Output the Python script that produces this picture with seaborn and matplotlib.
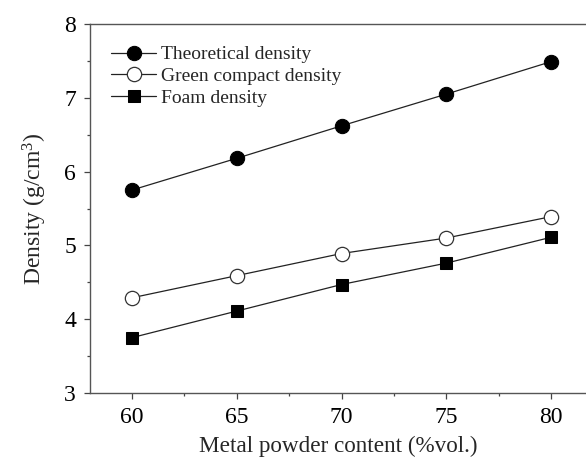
import matplotlib
matplotlib.use("Agg")
import matplotlib.pyplot as plt
import seaborn as sns
import pandas as pd
from matplotlib.ticker import MultipleLocator

content = [60, 65, 70, 75, 80]
theoretical = [5.75, 6.18, 6.62, 7.05, 7.49]
green = [4.29, 4.59, 4.89, 5.10, 5.39]
foam = [3.75, 4.11, 4.47, 4.76, 5.11]
labels = ["Theoretical density", "Green compact density", "Foam density"]

sns.set_style("ticks")
plt.rcParams['font.family'] = ['Liberation Serif', 'DejaVu Serif']
plt.rcParams['mathtext.fontset'] = 'custom'
plt.rcParams['mathtext.rm'] = 'Liberation Serif'
plt.rcParams['mathtext.it'] = 'Liberation Serif'

fig = plt.figure(figsize=(5.86, 4.58), dpi=100)
ax = fig.add_axes([90/586, 1-393/458, 1-90/586, (393-24)/458])

styles = [
    dict(marker='o', markerfacecolor='black', markeredgecolor='black', markersize=10.3),
    dict(marker='o', markerfacecolor='white', markeredgecolor='#333333', markersize=10.3, markeredgewidth=0.9),
    dict(marker='s', markerfacecolor='black', markeredgecolor='black', markersize=8.6),
]
for vals, lab, st in zip([theoretical, green, foam], labels, styles):
    df = pd.DataFrame({"x": content, "y": vals})
    sns.lineplot(data=df, x="x", y="y", ax=ax, color='#222222', linewidth=0.9,
                 label=lab, **st)

ax.set_xlim(58.0, 60 + (586 - 131.7) / 20.97)
ax.set_ylim(3, 8)
ax.xaxis.set_major_locator(MultipleLocator(5))
ax.xaxis.set_minor_locator(MultipleLocator(2.5))
ax.yaxis.set_major_locator(MultipleLocator(1))
ax.yaxis.set_minor_locator(MultipleLocator(0.5))
ax.tick_params(which='major', direction='out', length=4, width=0.9, colors='#444444',
               labelsize=17, labelcolor='black', pad=6)
ax.tick_params(which='minor', direction='out', length=2.5, width=0.9, colors='#444444')
for s in ['left', 'bottom', 'top']:
    ax.spines[s].set_color('#555555')
    ax.spines[s].set_linewidth(1.0)
ax.spines['right'].set_visible(False)

ax.set_xlabel("Metal powder content (%vol.)", fontsize=16.7, labelpad=6)
ax.set_ylabel("Density (g/cm$^{3}$)", fontsize=17, labelpad=11)

leg = ax.legend(loc='upper left', frameon=False, fontsize=14, handlelength=2.3,
                handletextpad=0.25, labelspacing=0.22, borderaxespad=0.0,
                bbox_to_anchor=(0.027, 0.962))

fig.savefig("out.png", dpi=100)
